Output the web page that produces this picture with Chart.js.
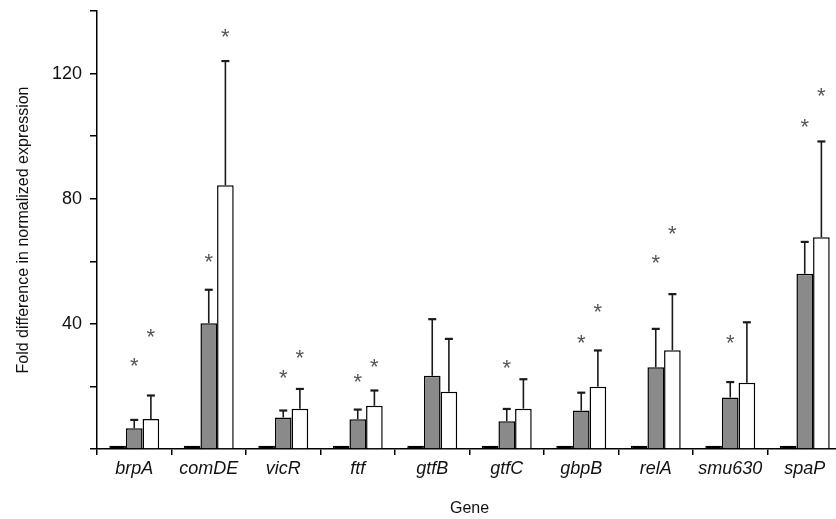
<!DOCTYPE html>
<html><head><meta charset="utf-8">
<script src="https://cdn.jsdelivr.net/npm/chart.js@4"></script>
<style>html,body{margin:0;padding:0;overflow:hidden;background:#fff;width:836px;height:519px}</style>
</head><body>
<canvas id="c" width="842" height="519" style="display:block;width:842px;height:519px"></canvas>
<script>
const genes = ['brpA','comDE','vicR','ftf','gtfB','gtfC','gbpB','relA','smu630','spaP'];
const controlVals = [1,1,1,1,1,1,1,1,1,1];
const greyVals = [6.6,40.2,10.1,9.5,23.4,8.9,12.3,26.1,16.5,56];
const greyErr = [9.3,50.9,12.3,12.6,41.5,12.8,18.0,38.4,21.4,66.2];
const whiteVals = [9.6,84.3,12.9,13.8,18.3,12.9,19.9,31.6,21.2,67.7];
const whiteErr = [17.1,124,19.2,18.7,35.2,22.3,31.5,49.5,40.5,98.3];
const greyStars = [28.5,61.5,24.4,23.1,null,27.6,35.7,61.2,35.7,104.7];
const whiteStars = [37.8,133.5,30.9,27.9,null,null,45.5,70.6,null,114.7];
const yTicksShown = [40,80,120];

Chart.defaults.font.family = "'Liberation Sans', Arial, Helvetica, sans-serif";
Chart.defaults.color = '#111';

const errPlugin = {
  id: 'errStars',
  afterDatasetsDraw(chart) {
    const ctx = chart.ctx, y = chart.scales.y;
    chart.data.datasets.forEach((ds, i) => {
      const meta = chart.getDatasetMeta(i);
      meta.data.forEach((bar, j) => {
        if (ds.errTop && ds.errTop[j] != null) {
          const yt = y.getPixelForValue(ds.errTop[j]);
          ctx.save();
          ctx.strokeStyle = '#1a1a1a'; ctx.lineWidth = 1.6;
          ctx.beginPath();
          ctx.moveTo(bar.x, bar.y); ctx.lineTo(bar.x, yt);
          ctx.stroke();
          ctx.lineWidth = 2.2;
          ctx.beginPath();
          ctx.moveTo(bar.x - 4, yt); ctx.lineTo(bar.x + 4, yt);
          ctx.stroke(); ctx.restore();
        }
        if (ds.stars && ds.stars[j] != null) {
          const ys = y.getPixelForValue(ds.stars[j]);
          const size = 22;
          ctx.save();
          ctx.fillStyle = '#555';
          ctx.font = size + "px 'Liberation Sans', Arial, sans-serif";
          ctx.textAlign = 'center'; ctx.textBaseline = 'alphabetic';
          ctx.fillText('*', bar.x, ys + 0.58 * size);
          ctx.restore();
        }
      });
    });
  }
};

new Chart(document.getElementById('c'), {
  type: 'bar',
  data: {
    labels: genes,
    datasets: [
      {data: controlVals, backgroundColor: '#000', borderColor: '#000', borderWidth: 1.5},
      {data: greyVals, backgroundColor: '#8a8a8a', borderColor: '#000', borderWidth: 1.5, errTop: greyErr, stars: greyStars},
      {data: whiteVals, backgroundColor: '#fff', borderColor: '#000', borderWidth: 1.5, errTop: whiteErr, stars: whiteStars}
    ]
  },
  options: {
    responsive: false, animation: false, devicePixelRatio: 1,
    datasets: {bar: {barPercentage: 1, categoryPercentage: 0.67}},
    layout: {padding: {top: 11, left: 0, right: 0, bottom: 0}},
    plugins: {legend: {display: false}, tooltip: {enabled: false}},
    scales: {
      x: {
        grid: {offset: true, drawOnChartArea: false, drawTicks: true, tickLength: 6, color: '#000', lineWidth: 1.5},
        border: {display: true, color: '#000', width: 1.5},
        ticks: {font: {size: 18, style: 'italic'}, color: '#111', padding: 3, maxRotation: 0, autoSkip: false},
        title: {display: true, text: 'Gene', font: {size: 16}, color: '#111', padding: {top: 0, bottom: 1}},
        afterFit(s) { s.height = 70; }
      },
      y: {
        min: 0, max: 140,
        grid: {drawOnChartArea: false, drawTicks: true, tickLength: 7, color: '#000', lineWidth: 1.5},
        border: {display: true, color: '#000', width: 1.5},
        ticks: {stepSize: 20, autoSkip: false, font: {size: 18}, color: '#111', padding: 8,
          callback: v => yTicksShown.includes(v) ? String(v) : ''},
        title: {display: true, text: 'Fold difference in normalized expression', font: {size: 16}, color: '#111', padding: {top: 14, bottom: 0}},
        afterFit(s) { s.width = 97; s.paddingTop = 0; s.paddingBottom = 0; }
      }
    }
  },
  plugins: [errPlugin]
});
</script>
</body></html>
